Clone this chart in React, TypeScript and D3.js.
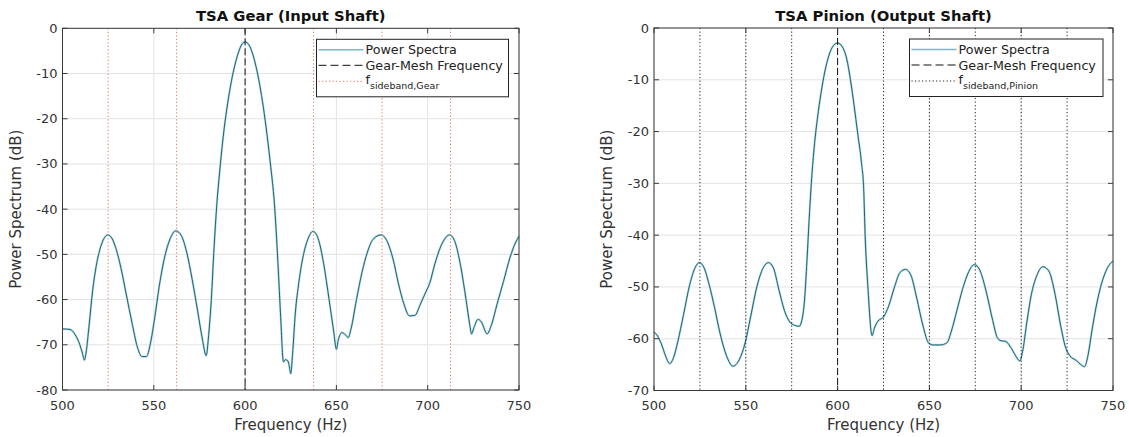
import React from "react";
import * as d3 from "d3";

// ---------- data ----------
const gearFreq = [500,504,507,509.5,511,512,513,514.5,516.5,518.5,521,523,524.7,527,529.5,532,535,538,541,543.5,546,548,550.5,553,556,559,562,565,568,571,574,576.5,578.7,580,581.5,583,584.5,586,588,590,592,594,596,598,600,602,604,606,608,610,612,614,616,618,619.5,621,622,623.3,624,625,626,627.5,629.5,632,634.5,637.2,640,643,646,648.5,650,651,653,655,656.5,658,661,664,667,670,674.5,678,681,684,687,690,693,696,699,701,704,708,712,715,718,721,723,724,725.5,727.5,729.5,731,732.5,735,738,741.5,745,748,750];
const gearDb = [-66.5,-66.6,-67.8,-70,-72,-73.4,-71.5,-66,-58,-52.5,-48.2,-46.3,-45.7,-46.4,-49,-53,-59,-65,-70.5,-72.6,-72.6,-70,-64,-57,-50.5,-46.5,-44.8,-45.8,-49.5,-55.5,-62.5,-68.5,-72.4,-68,-60,-48.5,-39,-32,-24,-17.8,-12.8,-8.8,-5.8,-3.7,-3,-3.6,-5.5,-8.5,-12.5,-17.5,-23.5,-30.5,-38.5,-52,-64,-73.8,-73.3,-73.5,-74.3,-76.4,-72,-63,-56,-50,-46.5,-44.9,-46.5,-52,-60,-67,-71,-69,-67.3,-67.8,-68.4,-66.5,-60,-54,-49.5,-46.7,-45.7,-47.3,-51,-56.5,-61,-63.6,-63.5,-61,-58.3,-56.5,-52,-47.5,-45.7,-47.3,-52.5,-60,-65.5,-67.6,-66,-64.4,-65,-66.5,-67.6,-65.5,-61,-56,-50.8,-47.5,-46];

const pinionFreq = [500,502,504,506.5,508.5,510.5,513,516,519.5,522.5,524.7,527.5,530,533,536,539.5,543,546.5,549.5,552.5,556,559.5,562.3,565,568,571,574,576.5,579,580.5,582,583.3,584.5,585.5,587,589,591,593,595,597,600,603,605,607,609,611,613,614.2,615,616.5,618.8,620,622,625,628,631,634,637,640,643,646.5,649.5,652,656,659.5,662,665,668,671.5,674.5,677.5,681,684.5,687,689,691.5,694,697,699.2,701,703,705.5,708.5,711.8,715,718.5,721.5,724,726.5,730,732.5,734.5,736.5,738.5,741,744.5,747.5,750];
const pinionDb = [-58.7,-59.5,-61,-63.5,-64.8,-63.8,-60.5,-55.5,-49.5,-46.2,-45.3,-46.5,-49.5,-54,-59,-63.3,-65.3,-64,-61,-56,-50,-46.3,-45.3,-46.3,-50.5,-54.5,-56.8,-57.4,-57.6,-56.5,-52.5,-45,-37,-31,-24,-17.5,-12.5,-8.5,-5.6,-3.8,-2.9,-3.9,-6,-10,-15,-20.5,-26,-31,-40,-50,-59.4,-58,-56.6,-55.8,-53.5,-50,-47.2,-46.6,-47.8,-52,-57.5,-60.8,-61.2,-61.2,-60.8,-58.5,-54.5,-50.5,-47,-45.7,-46.8,-51,-56.5,-59.8,-60.4,-60.5,-61.5,-63.3,-64.3,-62,-57,-51.5,-47.8,-46.1,-46.9,-51.5,-57.5,-61.5,-63.3,-64.2,-65,-65.4,-63,-58.5,-53.5,-48.5,-46,-45];

const gearMeshFreq = [600];
const gearSidebands = [525, 562.5, 637.5, 675, 712.5];
const pinionSidebands = [525, 550, 575, 625, 650, 675, 700, 725];

const xTicks = [500, 550, 600, 650, 700, 750];
const gearYTicks = [0, -10, -20, -30, -40, -50, -60, -70, -80];
const pinionYTicks = [0, -10, -20, -30, -40, -50, -60, -70];

const FONT = "DejaVu Sans, Verdana, sans-serif";

type PanelProps = {
  left: number; right: number; top: number; bottom: number;
  yMin: number; yTicks: number[];
  freq: number[]; db: number[];
  sidebands: number[]; sideColor: string;
  title: string; subLabel: string;
  legendX: number; legendW: number;
};

function Panel(p: PanelProps) {
  const x = d3.scaleLinear().domain([500, 750]).range([p.left, p.right]);
  const y = d3.scaleLinear().domain([p.yMin, 0]).range([p.bottom, p.top]);
  const pts = p.freq.map((f, i) => [f, p.db[i]] as [number, number]);
  const line = d3.line<[number, number]>().x(d => x(d[0])).y(d => y(d[1])).curve(d3.curveMonotoneX);
  const path = line(pts) || "";
  const cx = (p.left + p.right) / 2;
  const cy = (p.top + p.bottom) / 2;
  const axisColor = "#3a3a3a";
  const tickLen = 5;
  const lx = p.legendX, ly = p.top + 11, lw = p.legendW, lh = 57.5;
  return (
    <g>
      <rect x={p.left} y={p.top} width={p.right - p.left} height={p.bottom - p.top} fill="#fff" />
      {/* grid */}
      {xTicks.map(t => (
        <line key={"gx" + t} x1={x(t)} x2={x(t)} y1={p.top} y2={p.bottom} stroke="#e3e3e3" strokeWidth={1} />
      ))}
      {p.yTicks.map(t => (
        <line key={"gy" + t} x1={p.left} x2={p.right} y1={y(t)} y2={y(t)} stroke="#e3e3e3" strokeWidth={1} />
      ))}
      {/* curve */}
      <path d={path} fill="none" stroke="#b3dde6" strokeWidth={2.2} strokeLinejoin="round" />
      <path d={path} fill="none" stroke="#22606f" strokeWidth={1} strokeLinejoin="round" />
      {/* sidebands */}
      {p.sidebands.map(s => (
        <line key={"sb" + s} x1={x(s)} x2={x(s)} y1={p.top} y2={p.bottom} stroke={p.sideColor} strokeWidth={1} strokeDasharray="1.2,2.3" />
      ))}
      {/* gear mesh */}
      {gearMeshFreq.map(g => (
        <line key={"gm" + g} x1={x(g)} x2={x(g)} y1={p.top} y2={p.bottom} stroke="#111" strokeWidth={1} strokeDasharray="7,3" />
      ))}
      {/* box */}
      <rect x={p.left} y={p.top} width={p.right - p.left} height={p.bottom - p.top} fill="none" stroke={axisColor} strokeWidth={1} />
      {/* ticks */}
      {xTicks.map(t => (
        <g key={"tx" + t}>
          <line x1={x(t)} x2={x(t)} y1={p.bottom} y2={p.bottom - tickLen} stroke={axisColor} />
          <line x1={x(t)} x2={x(t)} y1={p.top} y2={p.top + tickLen} stroke={axisColor} />
          <text x={x(t)} y={p.bottom + 19.5} textAnchor="middle" fontSize={13} fill="#333" fontFamily={FONT}>{t}</text>
        </g>
      ))}
      {p.yTicks.map(t => (
        <g key={"ty" + t}>
          <line x1={p.left} x2={p.left + tickLen} y1={y(t)} y2={y(t)} stroke={axisColor} />
          <line x1={p.right} x2={p.right - tickLen} y1={y(t)} y2={y(t)} stroke={axisColor} />
          <text x={p.left - 5} y={y(t) + 4.5} textAnchor="end" fontSize={13} fill="#333" fontFamily={FONT}>{t}</text>
        </g>
      ))}
      {/* labels */}
      <text x={cx} y={21} textAnchor="middle" fontSize={14.8} fontWeight="bold" fill="#111" fontFamily={FONT}>{p.title}</text>
      <text x={cx} y={429.5} textAnchor="middle" fontSize={15} fill="#333" fontFamily={FONT}>Frequency (Hz)</text>
      <text transform={`translate(${p.left - 42},${cy}) rotate(-90)`} textAnchor="middle" fontSize={15} fill="#333" fontFamily={FONT}>Power Spectrum (dB)</text>
      {/* legend */}
      <rect x={lx} y={ly} width={lw} height={lh} fill="#fff" stroke="#222" strokeWidth={1} />
      <line x1={lx + 2} x2={lx + 47} y1={ly + 10.5} y2={ly + 10.5} stroke="#7fb7c6" strokeWidth={1.6} />
      <text x={lx + 49} y={ly + 15} fontSize={12.7} fill="#222" fontFamily={FONT}>Power Spectra</text>
      <line x1={lx + 2} x2={lx + 47} y1={ly + 26} y2={ly + 26} stroke="#111" strokeWidth={1} strokeDasharray="8,4" />
      <text x={lx + 49} y={ly + 30.5} fontSize={12.7} fill="#222" fontFamily={FONT}>Gear-Mesh Frequency</text>
      <line x1={lx + 2} x2={lx + 47} y1={ly + 42} y2={ly + 42} stroke={p.sideColor} strokeWidth={1} strokeDasharray="1.2,2.3" />
      <text x={lx + 49} y={ly + 45} fontSize={12.7} fill="#222" fontFamily={FONT}>
        f<tspan fontSize={9.5} dy={5}>{p.subLabel}</tspan>
      </text>
    </g>
  );
}

export default function App() {
  return (
    <svg width={1129} height={437} style={{ position: "absolute", left: 0, top: 0, background: "#fff" }}>
      <rect x={0} y={0} width={1129} height={437} fill="#fff" />
      <Panel left={62.5} right={519} top={28.3} bottom={390}
        yMin={-80} yTicks={gearYTicks} freq={gearFreq} db={gearDb}
        sidebands={gearSidebands} sideColor="#df7565"
        title="TSA Gear (Input Shaft)" subLabel="sideband,Gear"
        legendX={316.5} legendW={192} />
      <Panel left={654} right={1113} top={28} bottom={390.5}
        yMin={-70} yTicks={pinionYTicks} freq={pinionFreq} db={pinionDb}
        sidebands={pinionSidebands} sideColor="#222"
        title="TSA Pinion (Output Shaft)" subLabel="sideband,Pinion"
        legendX={909.5} legendW={193.5} />
    </svg>
  );
}
